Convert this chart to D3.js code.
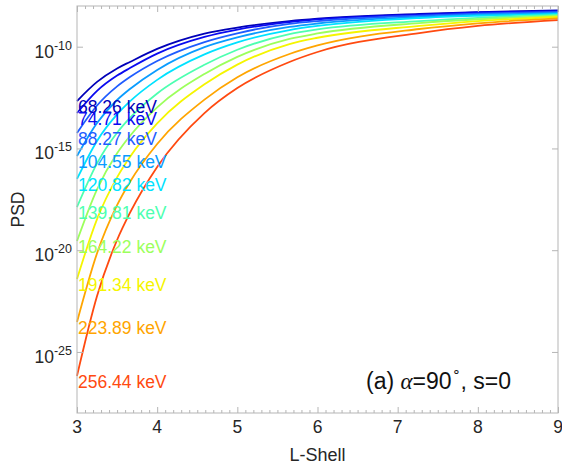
<!DOCTYPE html>
<html>
<head>
<meta charset="utf-8">
<script src="https://cdn.jsdelivr.net/npm/d3@7"></script>
<style>
  html, body { margin: 0; padding: 0; background: #fff; }
  svg { display: block; font-family: "Liberation Sans", Arial, Helvetica, sans-serif; }
</style>
</head>
<body>
<svg id="chart" width="562" height="465"></svg>
<script>
// L-shell sample positions
const lShell = [3, 3.25, 3.5, 3.66, 4, 4.59, 5, 5.65, 6, 7.27, 8, 9];

// Energy channels (keV)
const energies = [68.26, 74.71, 88.27, 104.55, 120.82, 139.81, 164.22, 191.34, 223.89, 256.44];

// log10 of phase space density for each energy channel, sampled at lShell
const logPSD_68_26  = [-12.67, -11.73, -11.07, -10.75, -10.11, -9.36, -9.06, -8.74, -8.62, -8.39, -8.30, -8.22];
const logPSD_74_71  = [-13.26, -12.17, -11.42, -11.05, -10.34, -9.52, -9.16, -8.79, -8.66, -8.42, -8.32, -8.25];
const logPSD_88_27  = [-14.24, -12.89, -11.95, -11.49, -10.70, -9.77, -9.34, -8.88, -8.74, -8.47, -8.37, -8.29];
const logPSD_104_55 = [-15.37, -13.75, -12.62, -12.08, -11.14, -10.02, -9.54, -9.03, -8.86, -8.54, -8.43, -8.34];
const logPSD_120_82 = [-16.50, -14.63, -13.33, -12.69, -11.63, -10.38, -9.79, -9.18, -8.98, -8.59, -8.48, -8.39];
const logPSD_139_81 = [-17.88, -15.73, -14.23, -13.50, -12.30, -10.89, -10.15, -9.38, -9.15, -8.74, -8.58, -8.44];
const logPSD_164_22 = [-19.55, -17.01, -15.24, -14.39, -12.98, -11.34, -10.50, -9.62, -9.35, -8.84, -8.65, -8.49];
const logPSD_191_34 = [-21.42, -18.47, -16.42, -15.42, -13.77, -11.85, -10.88, -9.87, -9.56, -8.98, -8.74, -8.54];
const logPSD_223_89 = [-23.53, -20.15, -17.79, -16.65, -14.78, -12.60, -11.50, -10.36, -9.94, -9.13, -8.85, -8.61];
const logPSD_256_44 = [-26.18, -22.25, -19.50, -18.17, -15.91, -13.26, -12.03, -10.75, -10.26, -9.33, -8.98, -8.69];

const lineColors = ["#0000b8", "#0a0af0", "#1f5cff", "#0a9cff", "#00e2ff",
                    "#4dffb0", "#9cff5c", "#f5f500", "#ffa500", "#ff4a10"];

// Axis ticks
const xTicks = [3, 4, 5, 6, 7, 8, 9];
const yTickExponents = [-10, -15, -20, -25];

const psdTable = [logPSD_68_26, logPSD_74_71, logPSD_88_27, logPSD_104_55, logPSD_120_82,
                  logPSD_139_81, logPSD_164_22, logPSD_191_34, logPSD_223_89, logPSD_256_44];
const series = energies.map((e, i) => ({ energy: e, color: lineColors[i], values: psdTable[i] }));

const margin = { left: 77, right: 4, top: 6, bottom: 52 };
const width = 562, height = 465;
const svg = d3.select("#chart");

const x = d3.scaleLinear().domain([3, 9]).range([margin.left, width - margin.right]);
const y = d3.scaleLog().domain([1e-28, 1e-8]).range([height - margin.bottom, margin.top]);

const axisColor = "#b5b5b5";
const textColor = "#262626";

// curves
const line = d3.line()
  .x((d, i) => x(lShell[i]))
  .y(d => y(Math.pow(10, d)))
  .curve(d3.curveMonotoneX);

const plot = svg.append("g");
plot.selectAll("path.curve")
  .data(series)
  .join("path")
  .attr("class", "curve")
  .attr("fill", "none")
  .attr("stroke", d => d.color)
  .attr("stroke-width", 1.8)
  .attr("d", d => line(d.values));

// energy labels at the start of each curve
plot.selectAll("text.elabel")
  .data(series)
  .join("text")
  .attr("class", "elabel")
  .attr("x", x(3) + 1)
  .attr("y", d => y(Math.pow(10, d.values[0])))
  .attr("dy", "0.7em")
  .attr("fill", d => d.color)
  .attr("font-size", "17.5px")
  .text(d => d3.format(".2f")(d.energy) + " keV");

// axes frame
const x0 = x.range()[0], x1 = x.range()[1];
const y0 = y.range()[0], y1 = y.range()[1];
svg.append("rect")
  .attr("x", x0).attr("y", y1)
  .attr("width", x1 - x0).attr("height", y0 - y1)
  .attr("fill", "none").attr("stroke", axisColor).attr("stroke-width", 1);

const minorX = d3.range(30, 91).map(v => v / 10).filter(v => !xTicks.includes(v));

function styleAxis(g) {
  g.select(".domain").remove();
  g.selectAll(".tick line").attr("stroke", axisColor);
  g.selectAll(".tick text").remove();
}

// bottom & top ticks (inward)
svg.append("g").attr("transform", `translate(0,${y0})`)
  .call(d3.axisBottom(x).tickValues(xTicks).tickSize(-6)).call(styleAxis);
svg.append("g").attr("transform", `translate(0,${y0})`)
  .call(d3.axisBottom(x).tickValues(minorX).tickSize(-3)).call(styleAxis);
svg.append("g").attr("transform", `translate(0,${y1})`)
  .call(d3.axisTop(x).tickValues(xTicks).tickSize(-6)).call(styleAxis);
svg.append("g").attr("transform", `translate(0,${y1})`)
  .call(d3.axisTop(x).tickValues(minorX).tickSize(-3)).call(styleAxis);

// left & right ticks (inward)
const yTickVals = yTickExponents.map(e => Math.pow(10, e));
svg.append("g").attr("transform", `translate(${x0},0)`)
  .call(d3.axisLeft(y).tickValues(yTickVals).tickSize(-6)).call(styleAxis);
svg.append("g").attr("transform", `translate(${x1},0)`)
  .call(d3.axisRight(y).tickValues(yTickVals).tickSize(-6)).call(styleAxis);

// x tick labels
svg.append("g").selectAll("text")
  .data(xTicks)
  .join("text")
  .attr("x", d => x(d))
  .attr("y", y0 + 20)
  .attr("text-anchor", "middle")
  .attr("font-size", "17.5px")
  .attr("fill", textColor)
  .text(d => d);

// y tick labels as 10^e
const yLab = svg.append("g").selectAll("text")
  .data(yTickExponents)
  .join("text")
  .attr("x", x0 - 5)
  .attr("y", d => y(Math.pow(10, d)) + 11)
  .attr("text-anchor", "end")
  .attr("font-size", "17.5px")
  .attr("fill", textColor);
yLab.append("tspan").text("10");
yLab.append("tspan")
  .attr("font-size", "12.5px")
  .attr("dy", "-8")
  .text(d => "-" + Math.abs(d));

// axis titles
svg.append("text")
  .attr("x", (x0 + x1) / 2)
  .attr("y", 461)
  .attr("text-anchor", "middle")
  .attr("font-size", "18px")
  .attr("fill", textColor)
  .text("L-Shell");

svg.append("text")
  .attr("transform", `translate(24,${(y0 + y1) / 2}) rotate(-90)`)
  .attr("text-anchor", "middle")
  .attr("font-size", "17.5px")
  .attr("fill", textColor)
  .text("PSD");

// panel annotation
const ann = svg.append("text")
  .attr("x", 366)
  .attr("y", 389)
  .attr("font-size", "23px")
  .attr("fill", "#111");
ann.append("tspan").text("(a) ");
ann.append("tspan")
  .attr("font-family", "'Liberation Serif', 'DejaVu Serif', serif")
  .attr("font-style", "italic")
  .text("α");
ann.append("tspan").text("=90");
ann.append("tspan").attr("font-size", "14px").attr("dy", "-13").text("∘");
ann.append("tspan").attr("dy", "13").text(", s=0");
</script>
</body>
</html>
